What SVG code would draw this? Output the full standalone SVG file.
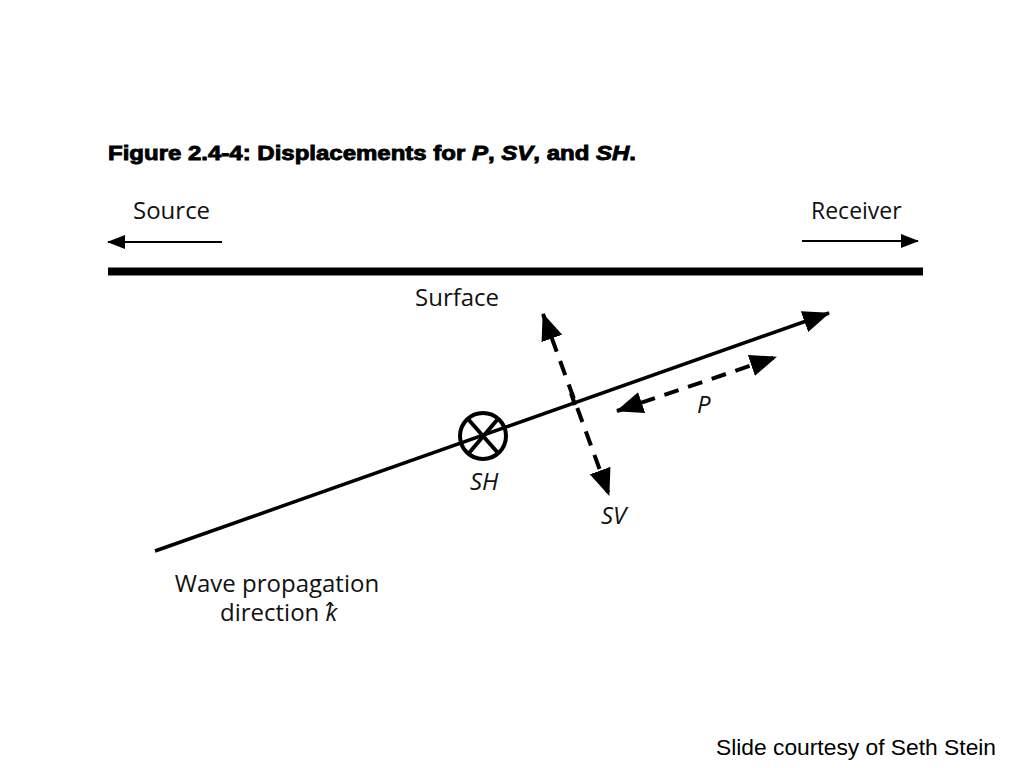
<svg xmlns="http://www.w3.org/2000/svg" width="1024" height="768" viewBox="0 0 1024 768">
<style>
  .lbl { font-family: "Open Sans", "DejaVu Sans", sans-serif; font-size: 24px; fill: #111; }
  .it { font-style: italic; }
  .title { font-family: "Liberation Sans", Arial, sans-serif; font-weight: bold; font-size: 21px; fill: #000; stroke: #000; stroke-width: 0.9; }
  .credit { font-family: "Liberation Sans", Arial, sans-serif; font-size: 22.8px; fill: #000; }
  .solid { stroke: #000; fill: none; }
  .dash { stroke: #000; fill: none; stroke-width: 4; stroke-dasharray: 15 10; }
</style>
<defs>
  <marker id="hsmall" markerUnits="userSpaceOnUse" markerWidth="20" markerHeight="14" refX="17" refY="7" orient="auto-start-reverse">
    <path d="M0,0 L18,7 L0,14 Z" fill="#000"/>
  </marker>
  <marker id="hbig" markerUnits="userSpaceOnUse" markerWidth="28" markerHeight="22" refX="26" refY="11" orient="auto-start-reverse">
    <path d="M0,0 L27,11 L0,22 Z" fill="#000"/>
  </marker>
</defs>
<rect width="1024" height="768" fill="#fff"/>

<text class="title" x="108" y="160" textLength="528" lengthAdjust="spacingAndGlyphs">Figure 2.4-4: Displacements for <tspan font-style="italic">P</tspan>, <tspan font-style="italic">SV</tspan>, and <tspan font-style="italic">SH</tspan>.</text>

<g id="source">
  <text class="lbl" x="133" y="219">Source</text>
</g>
<g id="receiver">
  <text class="lbl" x="811" y="219" style="font-size:23px">Receiver</text>
</g>
<g id="surface">
  <rect x="108" y="267.5" width="815" height="8" fill="#000"/>
  <text class="lbl" x="415" y="306">Surface</text>
</g>
<g id="sh">
  <circle cx="483" cy="436" r="23" stroke="#000" stroke-width="4" fill="none"/>
  <line x1="468" y1="419" x2="498" y2="453" stroke="#000" stroke-width="4"/>
  <line x1="497" y1="420" x2="469" y2="453" stroke="#000" stroke-width="4"/>
  <text class="lbl it" x="470" y="490">SH</text>
</g>
<g id="sv">
  <text class="lbl it" x="601" y="524">SV</text>
</g>
<g id="p">
  <text class="lbl it" x="697" y="413">P</text>
</g>
<g id="wave">
  <text class="lbl" x="277" y="592" text-anchor="middle">Wave propagation</text>
  <text class="lbl" x="220" y="621">direction <tspan class="it">k</tspan><tspan x="325" y="620">ˆ</tspan></text>
</g>

<g id="connectors">
  <line class="solid" x1="222" y1="242" x2="108" y2="242" stroke-width="2" marker-end="url(#hsmall)"/>
  <line class="solid" x1="802" y1="241" x2="918" y2="241" stroke-width="2" marker-end="url(#hsmall)"/>
  <line class="solid" x1="155" y1="551" x2="829" y2="313" stroke-width="3.5" marker-end="url(#hbig)"/>
  <line class="dash" x1="543" y1="314" x2="609" y2="495" marker-start="url(#hbig)" marker-end="url(#hbig)"/>
  <line x1="571" y1="393" x2="575" y2="405" stroke="#000" stroke-width="4"/>
  <line class="dash" x1="617" y1="411" x2="776" y2="357" marker-start="url(#hbig)" marker-end="url(#hbig)"/>
</g>

<text class="credit" x="716" y="755">Slide courtesy of Seth Stein</text>
</svg>
